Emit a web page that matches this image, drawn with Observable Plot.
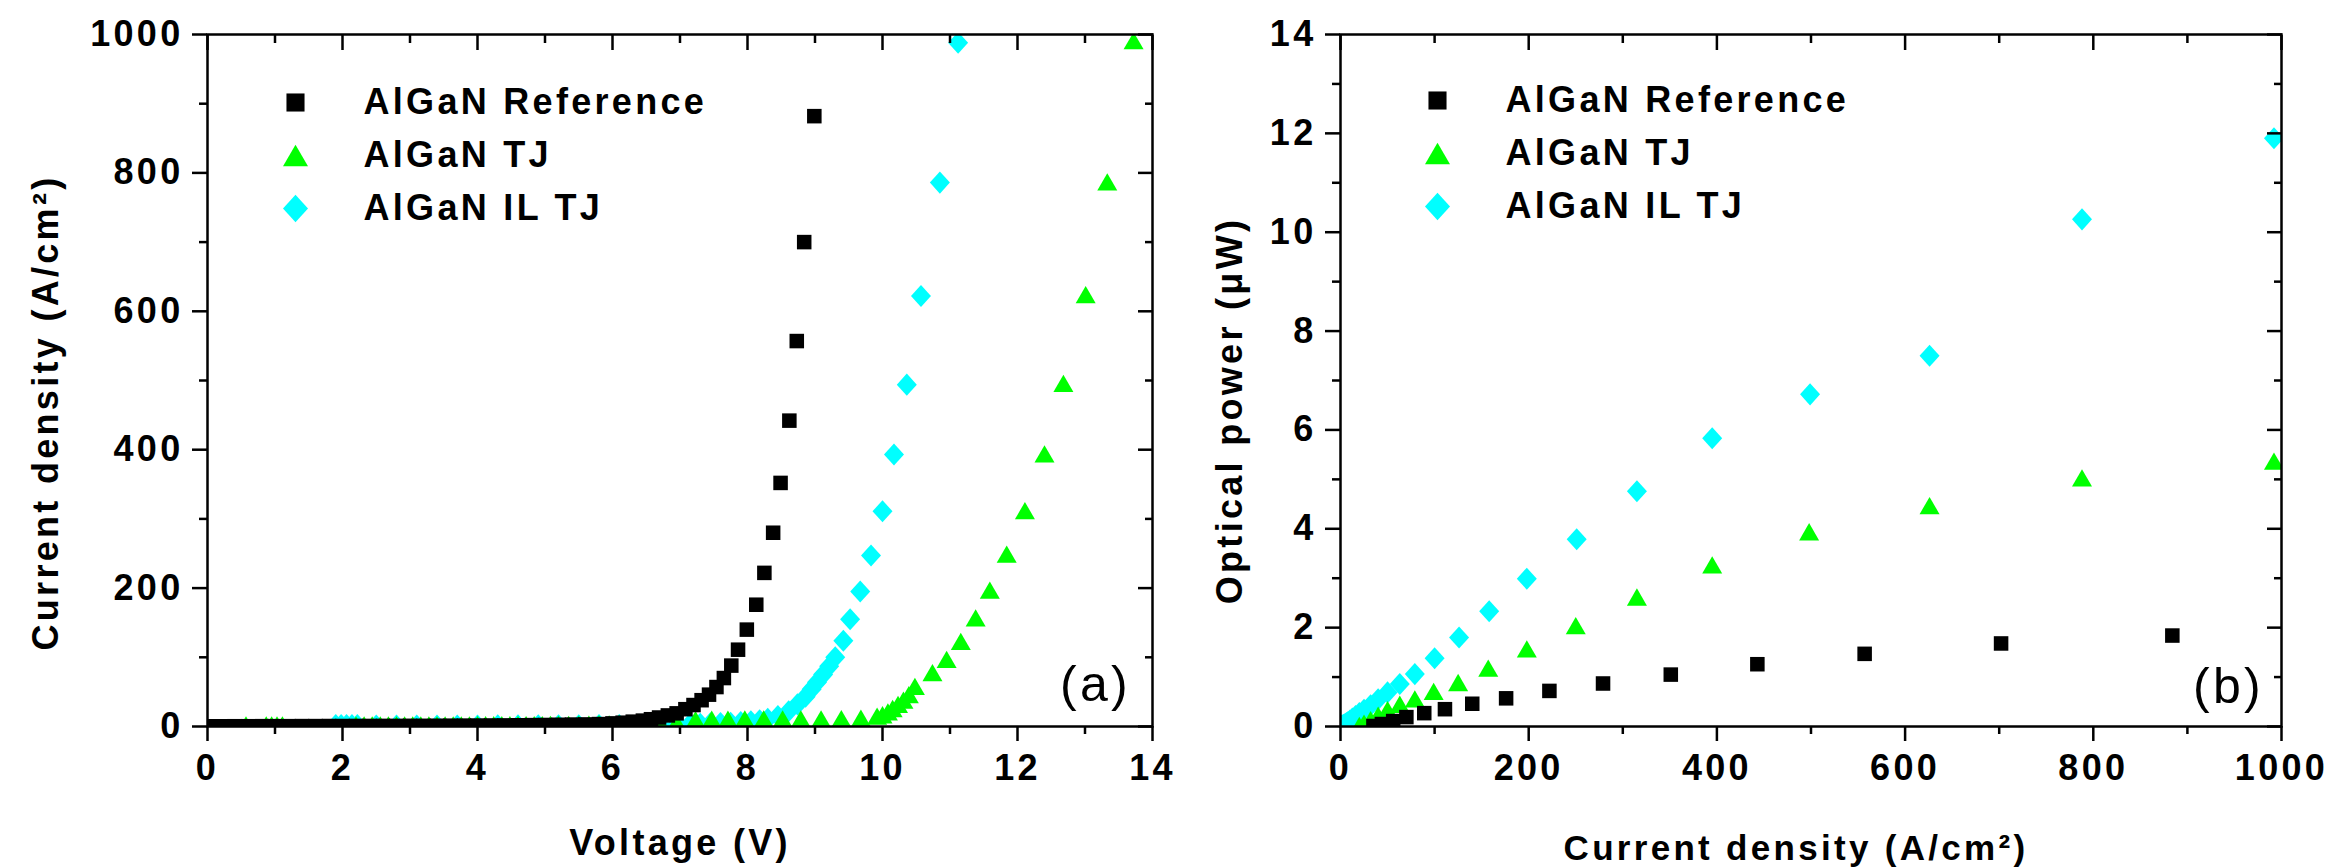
<!DOCTYPE html>
<html>
<head>
<meta charset="utf-8">
<script src="https://cdn.jsdelivr.net/npm/d3@7"></script>
<script src="https://cdn.jsdelivr.net/npm/@observablehq/plot@0.6"></script>
<style>
  html, body { margin: 0; padding: 0; background: #ffffff; }
  #wrap { display: flex; width: 2334px; height: 867px; overflow: hidden; }
  #wrap svg { flex: none; }
</style>
</head>
<body>
<div id="wrap"></div>
<script>
// ---------------- Panel (a): current density vs voltage ----------------
const ivRefV = [0.0,0.2,0.4,0.6,0.8,1.0,1.2,1.4,1.6,1.8,2.0,2.2,2.4,2.6,2.8,3.0,3.2,3.4,3.6,3.8,4.0,4.2,4.4,4.6,4.8,5.0,5.2,5.4,5.6,5.8,6.0,6.15,6.3,6.45,6.57,6.69,6.82,6.95,7.08,7.20,7.32,7.43,7.54,7.65,7.76,7.86,7.99,8.13,8.25,8.38,8.49,8.62,8.73,8.84,8.99];
const ivRefJ = [0.3,0.3,0.4,0.4,0.5,0.5,0.5,0.6,0.6,0.7,0.7,0.8,0.8,0.9,0.9,1.0,1.0,1.1,1.2,1.3,1.4,1.5,1.6,1.8,2.0,2.2,2.5,2.8,3.0,3.5,4.5,5.5,7.0,8.5,10.5,13,16,19,25,31,38,46,57,70,88,111,140,176,222,280,352,442,557,700,882];

const ivTjV = [0.57,0.87,0.95,1.03,1.11,2.20,2.32,2.44,2.56,2.68,2.80,2.92,3.04,3.16,3.28,3.40,3.52,3.64,3.76,3.88,4.00,4.12,4.24,4.36,4.48,4.60,4.72,4.84,4.96,5.08,5.20,5.35,5.50,5.65,5.80,5.95,6.10,6.30,6.50,6.70,6.95,7.23,7.47,7.71,7.96,8.24,8.52,8.79,9.09,9.39,9.68,9.92,10.00,10.08,10.15,10.23,10.31,10.39,10.48,10.74,10.95,11.16,11.38,11.59,11.84,12.11,12.40,12.68,13.01,13.33,13.72];
const ivTjJ = [2.5,2.5,2.5,2.5,2.5,2.5,2.5,2.5,2.5,2.5,2.5,2.5,2.5,2.5,2.5,2.5,2.5,2.5,2.5,2.5,2.6,2.6,2.6,2.6,2.7,2.7,2.7,2.8,2.8,2.9,3.0,3.1,3.2,3.4,3.6,3.8,4.0,4.5,5.0,5.5,6.0,10,10.5,10.5,11,11,11,11,11,11.5,12,15,17,21,26,32,38,46,58,78,97,123,157,197,249,312,394,496,624,787,991];

const ivIlV = [1.90,1.98,2.06,2.14,2.22,2.50,2.80,3.10,3.40,3.70,4.00,4.30,4.60,4.90,5.20,5.50,5.80,6.10,6.40,6.70,6.95,7.15,7.30,7.45,7.60,7.75,7.90,8.05,8.18,8.30,8.45,8.61,8.74,8.86,8.95,9.03,9.12,9.21,9.30,9.42,9.52,9.67,9.83,10.00,10.17,10.36,10.57,10.85,11.12];
const ivIlJ = [2.0,2.0,2.0,2.0,2.0,1.5,1.5,1.5,1.5,1.5,1.5,1.6,1.6,1.7,1.8,1.9,2.0,2.2,2.4,2.7,3.0,3.5,4.0,4.5,5.0,5.5,6.5,7.5,9,11,15,22,32,43,54,64,75,87,100,124,155,195,247,311,393,494,622,786,988];

// ---------------- Panel (b): optical power vs current density ----------------
const liRefJ = [35,44,56,70,89,111,140,176,222,279,351,443,557,702,884];
const liRefP = [0.01,0.05,0.11,0.19,0.27,0.35,0.46,0.57,0.72,0.87,1.05,1.26,1.47,1.68,1.84];

const liTjJ = [20,25,32,40,50,63,79,99,125,157,198,250,315,395,498,626,788,992];
const liTjP = [0.02,0.07,0.14,0.23,0.34,0.45,0.56,0.71,0.89,1.18,1.57,2.04,2.62,3.27,3.94,4.47,5.03,5.37];

const liIlJ = [0,0.5,1,1.6,2,2.5,3.2,4,5,6.3,8,10,12.6,16,20,25,32,40,50,63,79,100,126,158,198,251,315,395,499,626,788,992];
const liIlP = [0.0,0.0,0.01,0.01,0.02,0.02,0.03,0.04,0.05,0.07,0.09,0.12,0.16,0.21,0.27,0.34,0.43,0.55,0.69,0.86,1.06,1.38,1.80,2.33,2.99,3.79,4.76,5.83,6.72,7.50,10.26,11.90];

// ---------------- Series names, colours, ticks ----------------
const seriesNames  = ["AlGaN Reference", "AlGaN TJ", "AlGaN IL TJ"];
const seriesColors = ["#000000", "#00ff00", "#00ffff"];

const aXMajor = [0,2,4,6,8,10,12,14];
const aXMinor = [1,3,5,7,9,11,13];
const aYMajor = [0,200,400,600,800,1000];
const aYMinor = [100,300,500,700,900];
const bXMajor = [0,200,400,600,800,1000];
const bXMinor = [100,300,500,700,900];
const bYMajor = [0,2,4,6,8,10,12,14];
const bYMinor = [1,3,5,7,9,11,13];

const aXLabel = "Voltage (V)";
const aYLabel = "Current density (A/cm²)";
const bXLabel = "Current density (A/cm²)";
const bYLabel = "Optical power (μW)";

// ---------------- helpers ----------------
const FONT = "'Liberation Sans', Arial, Helvetica, sans-serif";
const AXW = 2.5;

const triangleSym = {
  draw(ctx, size) {
    const s = Math.sqrt(size / Math.PI);
    const w = 1.25 * s, h = 1.08 * s;
    ctx.moveTo(0, -h); ctx.lineTo(w, h); ctx.lineTo(-w, h); ctx.closePath();
  }
};
const diamondSym = {
  draw(ctx, size) {
    const s = Math.sqrt(size / Math.PI);
    const w = 1.25 * s, h = 1.38 * s;
    ctx.moveTo(0, -h); ctx.lineTo(w, 0); ctx.lineTo(0, h); ctx.lineTo(-w, 0); ctx.closePath();
  }
};
const seriesSymbols = ["square", triangleSym, diamondSym];
const dataR   = [8.2, 8, 8];
const legendR = [10.2, 10, 10];

const zip = (xs, ys) => xs.map((x, i) => ({x, y: ys[i]}));

function axes(xMajor, xMinor, yMajor, yMinor) {
  const none = () => "";
  return [
    Plot.axisX({anchor: "bottom", ticks: xMajor, tickSize: 15, tickPadding: 13, label: null, strokeWidth: AXW, tickFormat: d => String(d)}),
    Plot.axisX({anchor: "bottom", ticks: xMinor, tickSize: 8, label: null, strokeWidth: AXW, tickFormat: none}),
    Plot.axisX({anchor: "top", ticks: xMajor, tickSize: -15, label: null, strokeWidth: AXW, tickFormat: none}),
    Plot.axisX({anchor: "top", ticks: xMinor, tickSize: -8, label: null, strokeWidth: AXW, tickFormat: none}),
    Plot.axisY({anchor: "left", ticks: yMajor, tickSize: 15, tickPadding: 9, label: null, strokeWidth: AXW, tickFormat: d => String(d)}),
    Plot.axisY({anchor: "left", ticks: yMinor, tickSize: 8, label: null, strokeWidth: AXW, tickFormat: none}),
    Plot.axisY({anchor: "right", ticks: yMajor, tickSize: -15, label: null, strokeWidth: AXW, tickFormat: none}),
    Plot.axisY({anchor: "right", ticks: yMinor, tickSize: -8, label: null, strokeWidth: AXW, tickFormat: none}),
    Plot.frame({stroke: "black", strokeWidth: AXW})
  ];
}

function legend(dxMarker, dxText, dy0, step) {
  const marks = [];
  seriesNames.forEach((name, i) => {
    marks.push(Plot.dot([0], {frameAnchor: "top-left", dx: dxMarker, dy: dy0 + i * step,
      symbol: seriesSymbols[i], r: legendR[i], fill: seriesColors[i], stroke: "none"}));
    marks.push(Plot.text([name], {frameAnchor: "top-left", dx: dxText, dy: dy0 + i * step,
      textAnchor: "start", lineAnchor: "middle", fontSize: 36, fontWeight: "bold", fill: "black"}));
  });
  return marks;
}

function seriesDots(sets) {
  // draw order: IL TJ (cyan), TJ (green), Reference (black) on top
  return [2, 1, 0].map(i => Plot.dot(sets[i], {
    x: "x", y: "y", symbol: seriesSymbols[i], r: dataR[i],
    fill: seriesColors[i], stroke: "none", clip: true
  }));
}

const baseStyle = {
  fontFamily: FONT, fontSize: "36px", fontWeight: "bold", letterSpacing: "3.3px",
  color: "black", background: "transparent", overflow: "visible"
};

const plotA = Plot.plot({
  width: 1167, height: 867,
  marginLeft: 207, marginRight: 15, marginTop: 34, marginBottom: 141,
  x: {domain: [0, 14]},
  y: {domain: [0, 1000]},
  style: baseStyle,
  marks: [
    ...seriesDots([zip(ivRefV, ivRefJ), zip(ivTjV, ivTjJ), zip(ivIlV, ivIlJ)]),
    ...axes(aXMajor, aXMinor, aYMajor, aYMinor),
    ...legend(88, 156, 68, 53),
    Plot.text([aXLabel], {frameAnchor: "bottom", dy: 117, textAnchor: "middle", lineAnchor: "middle", fontSize: 36, fontWeight: "bold"}),
    Plot.text([aYLabel], {frameAnchor: "left", dx: -161, dy: 32, rotate: -90, textAnchor: "middle", lineAnchor: "middle", fontSize: 36, fontWeight: "bold"}),
    Plot.text(["(a)"], {frameAnchor: "bottom-right", dx: -57, dy: -42, textAnchor: "middle", lineAnchor: "middle", fontSize: 50, fontWeight: "normal"})
  ]
});

const plotB = Plot.plot({
  width: 1167, height: 867,
  marginLeft: 173, marginRight: 53, marginTop: 34, marginBottom: 141,
  x: {domain: [0, 1000]},
  y: {domain: [0, 14]},
  style: baseStyle,
  marks: [
    ...seriesDots([zip(liRefJ, liRefP), zip(liTjJ, liTjP), zip(liIlJ, liIlP)]),
    ...axes(bXMajor, bXMinor, bYMajor, bYMinor),
    ...legend(97, 165, 66, 53),
    Plot.text([bXLabel], {frameAnchor: "bottom", dx: -15, dy: 122, textAnchor: "middle", lineAnchor: "middle", fontSize: 35, fontWeight: "bold"}),
    Plot.text([bYLabel], {frameAnchor: "left", dx: -110, dy: 30, rotate: -90, textAnchor: "middle", lineAnchor: "middle", fontSize: 36, fontWeight: "bold"}),
    Plot.text(["(b)"], {frameAnchor: "bottom-right", dx: -53, dy: -40, textAnchor: "middle", lineAnchor: "middle", fontSize: 50, fontWeight: "normal"})
  ]
});

const wrap = document.getElementById("wrap");
wrap.appendChild(plotA);
wrap.appendChild(plotB);
</script>
</body>
</html>
